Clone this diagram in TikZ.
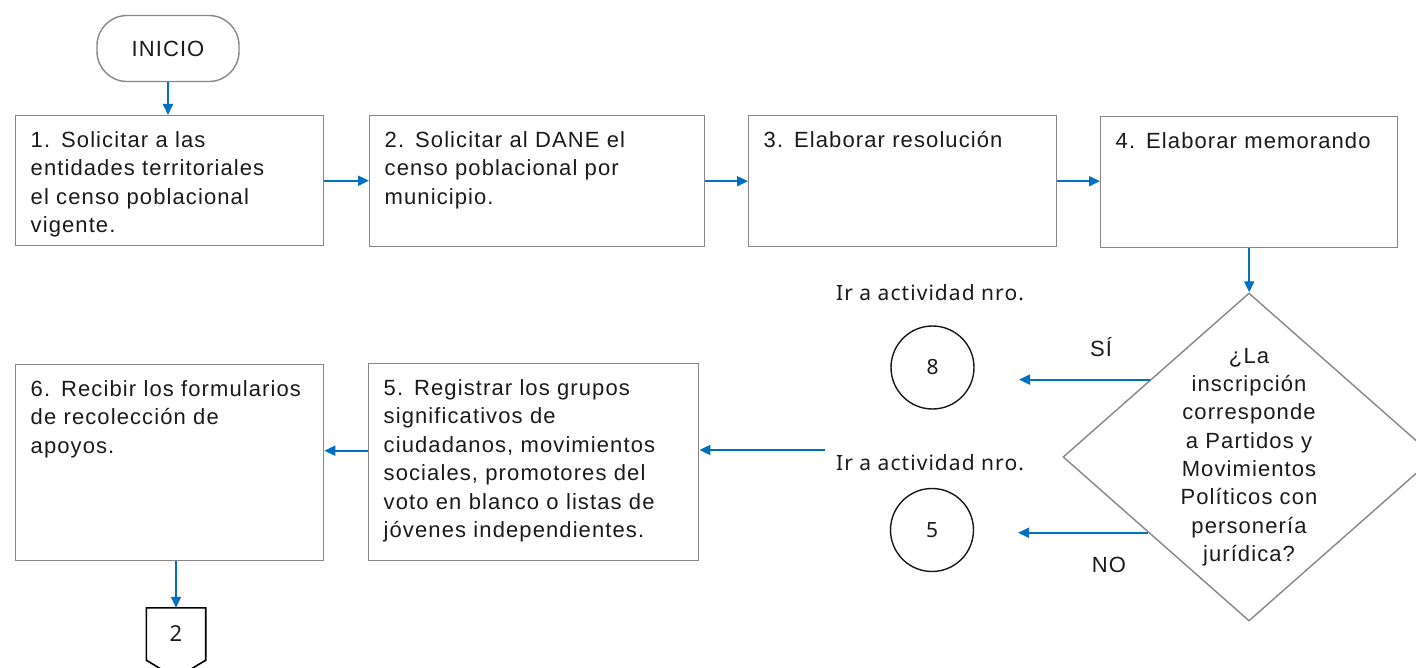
\documentclass[tikz,border=0pt]{standalone}
\usepackage{fontspec}
\setmainfont{Liberation Sans}[LetterSpace=5]
\newfontfamily\segoe{Noto Sans}[LetterSpace=5]
\usetikzlibrary{shapes.geometric,arrows.meta,calc}
\definecolor{flowblue}{HTML}{0070C0}
\definecolor{edgegray}{HTML}{878787}
\definecolor{inkgray}{HTML}{1A1A1A}

\begin{document}
\begin{tikzpicture}[x=1pt, y=-1pt,
    every node/.style={text=inkgray},
    start/.style={draw=edgegray, line width=1.4pt, rounded corners=30pt, minimum width=142pt, minimum height=66pt, font=\fontsize{22}{26}\selectfont},
    task/.style={draw=edgegray, line width=1.4pt, anchor=north west, align=left, inner xsep=15pt, inner ysep=8pt, text height=23.5pt, font=\fontsize{22}{28.5}\selectfont},
    decision/.style={diamond, draw=edgegray, line width=1.4pt, minimum width=372pt, minimum height=328pt, inner sep=0pt},
    question/.style={align=center, font=\fontsize{22}{28.3}\selectfont},
    jump/.style={circle, draw=black!90, line width=1.4pt, minimum size=83pt, inner sep=0pt, font=\segoe\fontsize{21}{24}\selectfont},
    note/.style={font=\segoe\fontsize{21}{24}\selectfont},
    answer/.style={font=\fontsize{22}{26}\selectfont},
    offpage/.style={minimum width=59pt, minimum height=52pt, inner sep=0pt, font=\segoe\fontsize{22}{24}\selectfont},
    flow/.style={draw=flowblue, line width=1.9pt, -{Triangle[length=11pt, width=10pt]}},
  ]
  \useasboundingbox (0,0) rectangle (1416,668);

  \node[start] (inicio) at (168,48.5) {INICIO};

  \node[task, text width=278pt, text depth=90.5pt] (t1) at (15,115) {1. Solicitar a las\\entidades territoriales\\el censo poblacional\\vigente.};
  \node[task, text width=305pt, text depth=91.5pt] (t2) at (369,115) {2. Solicitar al DANE el\\censo poblacional por\\municipio.};
  \node[task, text width=278pt, text depth=91.5pt] (t3) at (748,115) {3. Elaborar resolución};
  \node[task, text width=267pt, text depth=91.5pt] (t4) at (1100,116) {4. Elaborar memorando};
  \node[task, text width=300pt, text depth=157.5pt] (t5) at (368,363) {5. Registrar los grupos\\significativos de\\ciudadanos, movimientos\\sociales, promotores del\\voto en blanco o listas de\\jóvenes independientes.};
  \node[task, text width=278pt, text depth=156.5pt] (t6) at (15,364) {6. Recibir los formularios\\de recolección de\\apoyos.};

  \node[decision] (dia) at (1249,457) {};
  \node[question] (q) at (dia.center) {¿La\\inscripción\\corresponde\\a Partidos y\\Movimientos\\Políticos con\\personería\\jurídica?};

  \node[note] (ir8) at (930,293) {Ir a actividad nro.};
  \node[jump] (c8) at (932.5,367.5) {8};
  \node[note] (ir5) at (930,463) {Ir a actividad nro.};
  \node[jump] (c5) at (932,530) {5};
  \node[answer] (si) at (1101,347) {SÍ};
  \node[answer] (no) at (1109,565) {NO};

  \node[offpage] (off) at (176,634) {2};
  \draw[black, line width=1.6pt] (off.north west) -- (off.north east) -- (off.south east) -- ([yshift=-18pt]off.south) -- (off.south west) -- cycle;

  \coordinate (siout) at ($(dia.west)!0.47!(dia.north)$);
  \coordinate (sitip) at (1019,379);
  \coordinate (noout) at ($(dia.west)!0.46!(dia.south)$);
  \coordinate (notip) at (1018,533);
  \coordinate (back) at (825,450);

  \draw[flow] (inicio.south) -- (inicio.south |- t1.north);
  \draw[flow] (t1.east) -- (t1.east -| t2.west);
  \draw[flow] (t2.east) -- (t2.east -| t3.west);
  \draw[flow] (t3.east) -- (t3.east -| t4.west);
  \draw[flow] (t4.south) -- (t4.south |- dia.north);
  \draw[flow] (siout) -- (siout -| sitip);
  \draw[flow] (noout) -- (noout -| notip);
  \draw[flow] (back) -- (back -| t5.east);
  \draw[flow] ([yshift=11.5pt]t5.west) -- ([yshift=11.5pt]t5.west -| t6.east);
  \draw[flow] (t6.south -| off.north) -- (off.north);
\end{tikzpicture}
\end{document}
